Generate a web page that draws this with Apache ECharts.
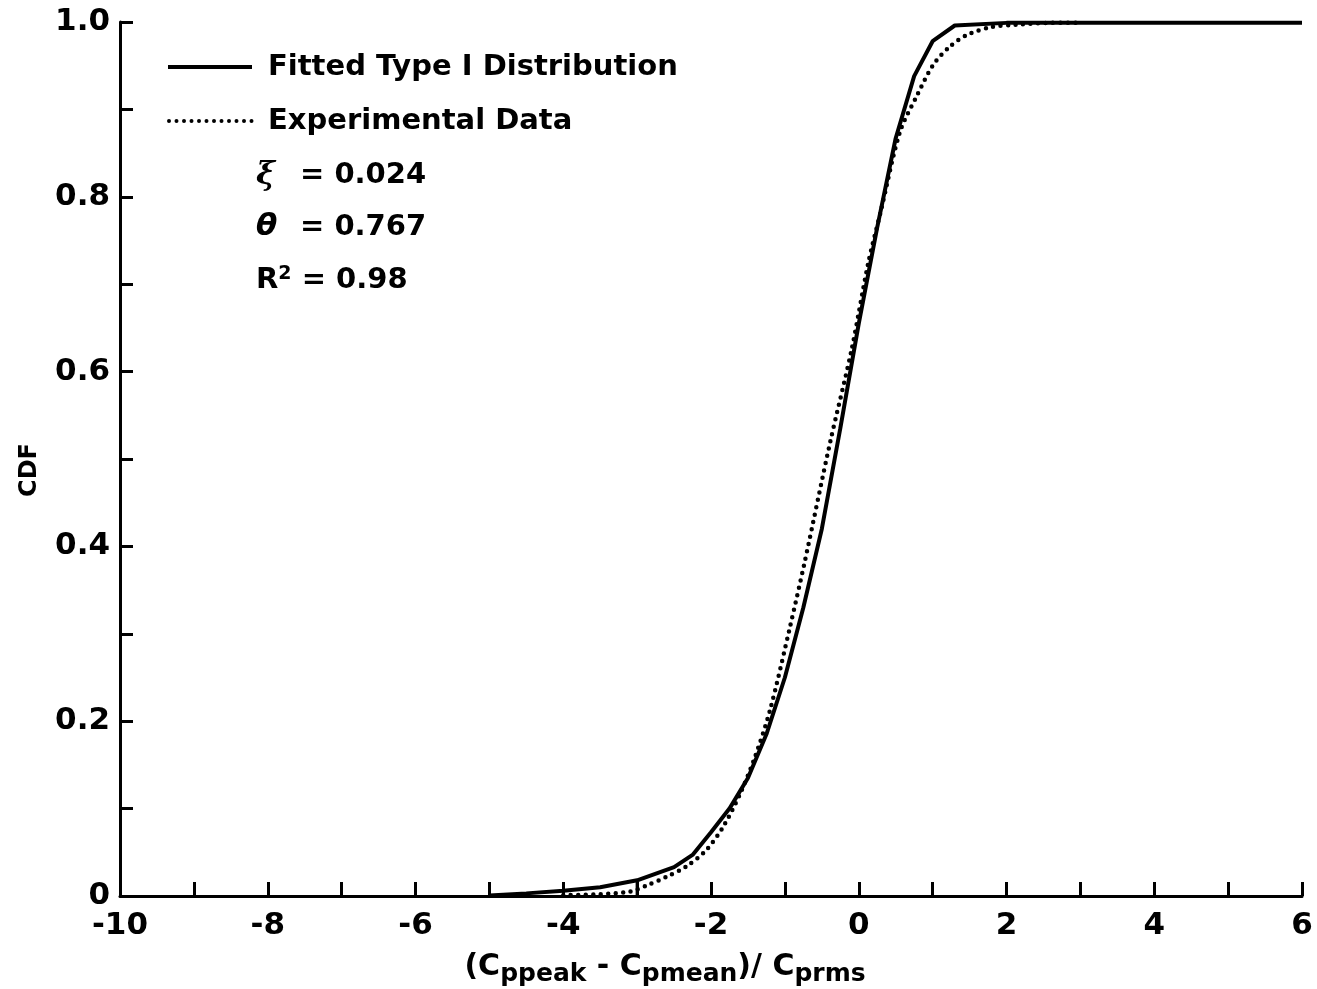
<!DOCTYPE html>
<html>
<head>
<meta charset="utf-8">
<title>CDF</title>
<script src="https://cdn.jsdelivr.net/npm/echarts@6/dist/echarts.min.js"></script>
<style>
  html, body { margin: 0; padding: 0; background: #fff; }
  #cdf { width: 1317px; height: 989px; }
</style>
</head>
<body>
<div id="cdf"></div>
<script>
// fitted type I curve
var fitX = [-5, -4.5, -4, -3.5, -3, -2.5, -2.25, -2, -1.75, -1.5, -1.25, -1, -0.75, -0.5, -0.25, 0, 0.25, 0.5, 0.75, 1.0, 1.3, 2, 6];
var fitY = [0.0005, 0.003, 0.006, 0.01, 0.018, 0.033, 0.047, 0.073, 0.1, 0.135, 0.185, 0.25, 0.33, 0.42, 0.535, 0.655, 0.765, 0.867, 0.938, 0.978, 0.996, 0.999, 0.999];

// experimental data (dotted)
var expX = [-4, -3.5, -3.1, -2.87, -2.6, -2.33, -2.06, -1.83, -1.6, -1.405, -1.2, -0.93, -0.727, -0.39, -0.097, 0.128, 0.3, 0.557, 0.783, 1.008, 1.235, 1.46, 1.777, 2.14, 2.6, 3];
var expY = [0.001, 0.002, 0.005, 0.012, 0.022, 0.034, 0.053, 0.08, 0.118, 0.159, 0.213, 0.308, 0.384, 0.518, 0.625, 0.724, 0.784, 0.874, 0.915, 0.951, 0.972, 0.985, 0.994, 0.997, 0.999, 0.999];

// short vertical stroke at x = -3
var stubX = [-3, -3];
var stubY = [0, 0.018];

var xTickLabels = { '-10': '-10', '-8': '-8', '-6': '-6', '-4': '-4', '-2': '-2', '0': '0', '2': '2', '4': '4', '6': '6' };
var yTickLabels = { '0': '0', '0.2': '0.2', '0.4': '0.4', '0.6': '0.6', '0.8': '0.8', '1': '1.0' };

var seriesNames = ['Fitted Type I Distribution', 'Experimental Data'];
var fitParams = ['= 0.024', '= 0.767', '= 0.98'];

function pairs(xs, ys) {
    var out = [];
    for (var i = 0; i < xs.length; i++) out.push([xs[i], ys[i]]);
    return out;
}

var font = 'DejaVu Sans';
var bold = function (px) { return 'bold ' + px + 'px "DejaVu Sans"'; };
var myChart = echarts.init(document.getElementById('cdf'));

var option = {
    backgroundColor: '#fff',
    animation: false,
    grid: { left: 120, right: 15, top: 22, bottom: 93, outerBoundsMode: 'none', containLabel: false },
    xAxis: {
        type: 'value', min: -10, max: 6, interval: 1,
        axisLine: { onZero: false, lineStyle: { color: '#000', width: 3 } },
        axisTick: { inside: true, length: 14, lineStyle: { color: '#000', width: 3 } },
        splitLine: { show: false },
        axisLabel: {
            margin: 14, color: '#000', fontFamily: font, fontSize: 31, fontWeight: 'bold',
            formatter: function (v) { var k = String(Math.round(v)); return xTickLabels[k] || ''; }
        },
        name: '(C{s|ppeak} - C{s|pmean})/ C{s|prms}',
        nameLocation: 'middle', nameGap: 52,
        nameTextStyle: {
            color: '#000', fontFamily: font, fontSize: 30, fontWeight: 'bold', padding: [0, 92, 0, 0],
            rich: { s: { fontFamily: font, fontSize: 25, fontWeight: 'bold', color: '#000', verticalAlign: 'bottom', padding: [14, 0, 0, 0] } }
        }
    },
    yAxis: {
        type: 'value', min: 0, max: 1, interval: 0.1,
        axisLine: { show: true, onZero: false, lineStyle: { color: '#000', width: 3 } },
        axisTick: { show: true, inside: true, length: 13, lineStyle: { color: '#000', width: 3 } },
        splitLine: { show: false },
        axisLabel: {
            margin: 10, color: '#000', fontFamily: font, fontSize: 31, fontWeight: 'bold',
            formatter: function (v) { var k = String(Math.round(v * 10) / 10); return yTickLabels[k] || ''; }
        },
        name: 'CDF', nameLocation: 'middle', nameGap: 78, nameRotate: 90,
        nameTextStyle: { color: '#000', fontFamily: font, fontSize: 24, fontWeight: 'bold', padding: [0, 22, 0, 0] }
    },
    graphic: [
        // legend samples
        { type: 'line', shape: { x1: 168, y1: 67, x2: 252, y2: 67 }, style: { stroke: '#000', lineWidth: 4 } },
        { type: 'line', shape: { x1: 169, y1: 121, x2: 252, y2: 121 }, style: { stroke: '#000', lineWidth: 4, lineDash: [0, 7.5], lineCap: 'round' } },
        { type: 'text', x: 268, y: 67, style: { text: seriesNames[0], font: bold(29), fill: '#000', verticalAlign: 'middle' } },
        { type: 'text', x: 268, y: 121, style: { text: seriesNames[1], font: bold(29), fill: '#000', verticalAlign: 'middle' } },
        // fit parameters
        { type: 'text', x: 256, y: 176, style: { text: 'ξ', font: 'italic bold 32px "DejaVu Serif"', fill: '#000', verticalAlign: 'middle' } },
        { type: 'text', x: 300, y: 175, style: { text: fitParams[0], font: bold(29), fill: '#000', verticalAlign: 'middle' } },
        { type: 'text', x: 256, y: 227, style: { text: 'θ', font: 'italic bold 31px "DejaVu Sans"', fill: '#000', verticalAlign: 'middle' } },
        { type: 'text', x: 300, y: 227, style: { text: fitParams[1], font: bold(29), fill: '#000', verticalAlign: 'middle' } },
        { type: 'text', x: 256, y: 280, style: {
            text: 'R{sup|2} ' + fitParams[2], font: bold(29), fill: '#000', verticalAlign: 'middle',
            rich: { sup: { font: bold(19), fill: '#000', verticalAlign: 'top', padding: [0, 0, 12, 0] } }
        } }
    ],
    series: [
        {
            name: seriesNames[0], type: 'line',
            data: pairs(fitX, fitY), showSymbol: false, symbol: 'none',
            lineStyle: { color: '#000', width: 4 }
        },
        {
            name: seriesNames[1], type: 'line',
            data: pairs(expX, expY), showSymbol: false, symbol: 'none', smooth: 0.3,
            lineStyle: { color: '#000', width: 4.5, type: [0, 7.5], cap: 'round' }
        },
        {
            name: 'stub', type: 'line',
            data: pairs(stubX, stubY), showSymbol: false, symbol: 'none',
            lineStyle: { color: '#000', width: 3 }
        }
    ]
};
myChart.setOption(option);
</script>
</body>
</html>
